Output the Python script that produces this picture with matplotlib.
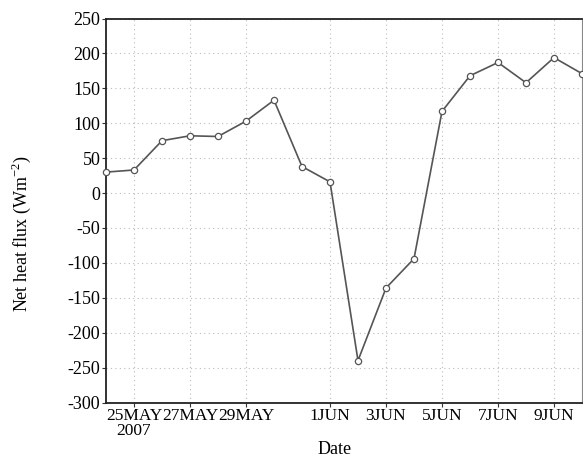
import datetime as dt
import matplotlib
matplotlib.use("Agg")
import matplotlib.pyplot as plt

plt.rcParams['font.family'] = ['Liberation Serif', 'DejaVu Serif']
plt.rcParams['mathtext.fontset'] = 'custom'
plt.rcParams['mathtext.rm'] = 'Liberation Serif'
plt.rcParams['axes.unicode_minus'] = False

start = dt.datetime(2007, 5, 24)
dates = [start + dt.timedelta(days=i) for i in range(18)]
flux = [30, 33, 75, 82, 81, 103, 133, 38, 16, -240, -136, -94,
        117, 168, 187, 158, 194, 171]

tick_dates = [dt.datetime(2007, 5, 25), dt.datetime(2007, 5, 27), dt.datetime(2007, 5, 29),
              dt.datetime(2007, 6, 1), dt.datetime(2007, 6, 3), dt.datetime(2007, 6, 5),
              dt.datetime(2007, 6, 7), dt.datetime(2007, 6, 9)]
tick_labels = ['25MAY\n2007', '27MAY', '29MAY', '1JUN', '3JUN', '5JUN', '7JUN', '9JUN']
yticks = list(range(-300, 251, 50))

fig = plt.figure(figsize=(5.83, 4.58), dpi=100)
ax = fig.add_axes([106 / 583, 1 - 402.5 / 458, 476 / 583, (402.5 - 18.5) / 458])

ax.plot(dates, flux, color='#555555', lw=1.2, marker='o', ms=4.5,
        mfc='white', mec='#555555', mew=0.9, clip_on=False, zorder=3)

ax.set_xlim(dt.datetime(2007, 5, 24), dt.datetime(2007, 6, 10))
ax.set_ylim(-300, 250)
ax.set_xticks(tick_dates)
ax.set_xticklabels(tick_labels, linespacing=0.95)
ax.set_yticks(yticks)
ax.tick_params(labelsize=13, length=3, width=0.8, color='#333333', pad=1)
ax.tick_params(axis='x', labelsize=12.5)
for lab in ax.get_xticklabels():
    lab.set_multialignment('center')

ax.grid(True, ls=(0, (1, 3)), color='#bbbbbb', lw=0.8)
for s in ['left', 'bottom', 'top']:
    ax.spines[s].set_linewidth(1.3)
    ax.spines[s].set_color('#222222')
ax.spines['right'].set_color('#888888')

ax.set_xlabel('Date', fontsize=13)
ax.set_ylabel('Net heat flux (Wm$^{-2}$)', fontsize=13)
ax.xaxis.set_label_coords((335 - 106) / 476, (402.5 - 449) / 384)
ax.xaxis.label.set_va('center')
ax.yaxis.set_label_coords((21 - 106) / 476, (402.5 - 234) / 384)
ax.yaxis.label.set_va('center')

fig.savefig('out.png', dpi=100)
